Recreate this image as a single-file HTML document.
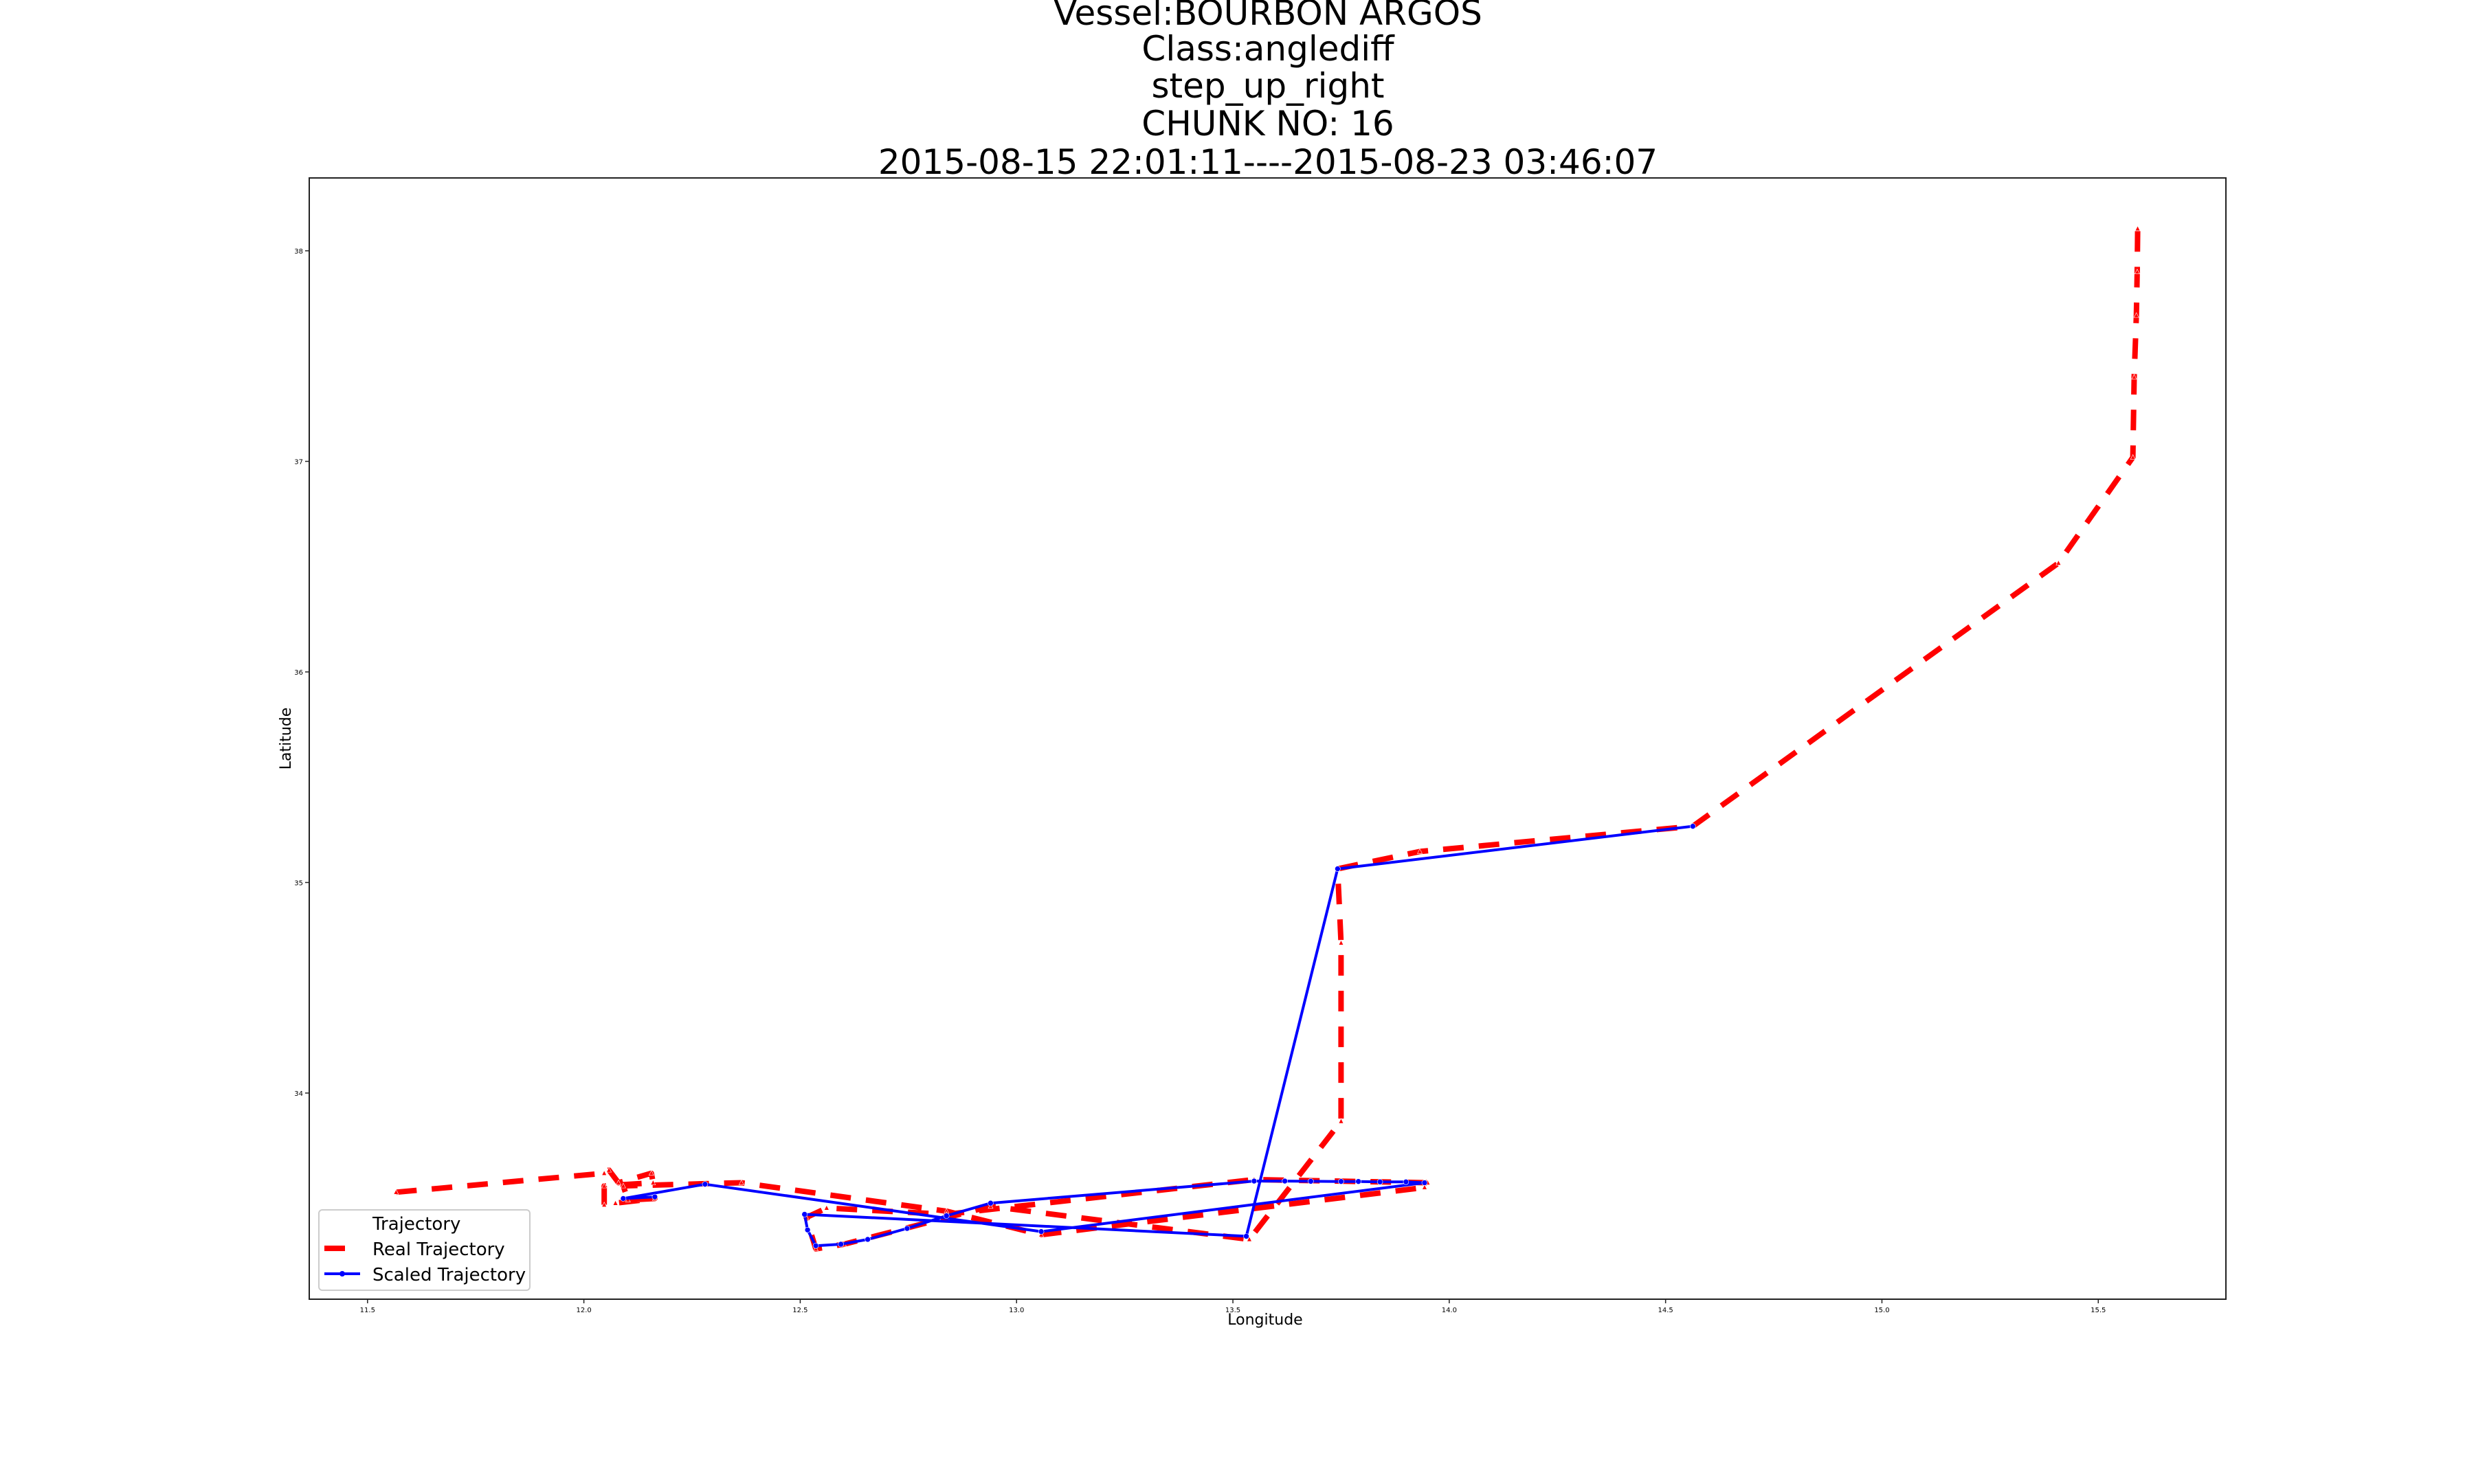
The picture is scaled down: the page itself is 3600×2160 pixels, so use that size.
<!DOCTYPE html>
<html><head><meta charset="utf-8"><style>
html,body{margin:0;padding:0;background:#fff;}
svg{display:block;font-family:"DejaVu Sans","Liberation Sans",sans-serif;}
</style></head><body>
<svg id="chart" width="3600" height="2160" viewBox="0 0 3600 2160" xmlns="http://www.w3.org/2000/svg">
<rect width="3600" height="2160" fill="#fff"/>
<g font-size="50" text-anchor="middle" fill="#000">
<text x="1845" y="36">Vessel:BOURBON ARGOS</text>
<text x="1845" y="88">Class:anglediff</text>
<text x="1845" y="142">step_up_right</text>
<text x="1845" y="197">CHUNK NO: 16</text>
<text x="1845" y="253">2015-08-15 22:01:11----2015-08-23 03:46:07</text>
</g>
<g id="ticks"></g>
<g id="plot"></g>
<rect x="450" y="259" width="2789" height="1632" fill="none" stroke="#222" stroke-width="2"/>
<text x="1841" y="1928" font-size="22" text-anchor="middle">Longitude</text>
<text x="423" y="1075" font-size="22" text-anchor="middle" transform="rotate(-90 423 1075)">Latitude</text>
<g>
<rect x="464" y="1761" width="307" height="117" rx="5" fill="#fff" fill-opacity="0.8" stroke="#ccc" stroke-width="2"/>
<text x="542" y="1790" font-size="26">Trajectory</text>
<line x1="472" y1="1817" x2="524" y2="1817" stroke="#f00" stroke-width="8" stroke-dasharray="30,22"/>
<text x="542" y="1827" font-size="26">Real Trajectory</text>
<line x1="472" y1="1854" x2="524" y2="1854" stroke="#00f" stroke-width="4"/>
<circle cx="498" cy="1854" r="4" fill="#00f"/>
<text x="542" y="1864" font-size="26">Scaled Trajectory</text>
</g>
</svg>
<script>
const xTicks = [11.5, 12.0, 12.5, 13.0, 13.5, 14.0, 14.5, 15.0, 15.5];
const xTickLabels = ["11.5","12.0","12.5","13.0","13.5","14.0","14.5","15.0","15.5"];
const yTicks = [34, 35, 36, 37, 38];
const yTickLabels = ["34","35","36","37","38"];
const realLon = [11.566,12.047,12.058,12.080,12.156,12.160,12.047,12.047,12.073,12.164,12.102,12.091,12.364,12.838,13.057,13.943,13.950,13.549,12.838,12.561,12.514,12.536,12.601,12.940,13.538,13.750,13.750,13.742,13.932,14.563,15.408,15.580,15.583,15.588,15.590,15.591];
const realLat = [33.529,33.619,33.634,33.574,33.619,33.574,33.559,33.469,33.477,33.499,33.492,33.559,33.574,33.439,33.327,33.552,33.574,33.589,33.424,33.454,33.409,33.260,33.282,33.462,33.305,33.866,34.713,35.065,35.147,35.267,36.517,37.019,37.400,37.693,37.900,38.105];
const scaledLon = [12.164,12.091,12.280,13.057,13.943,13.900,13.840,13.790,13.750,13.680,13.620,13.549,12.940,12.838,12.747,12.656,12.594,12.536,12.517,12.510,13.531,13.742,14.563];
const scaledLat = [33.507,33.499,33.567,33.342,33.574,33.578,33.578,33.580,33.580,33.581,33.582,33.582,33.477,33.417,33.357,33.305,33.282,33.275,33.350,33.424,33.320,35.065,35.267];

const X0=450, X1=3239, Y0=259, Y1=1891;
const xMin=11.3653, xMax=15.795, yMin=33.021, yMax=38.346;
function sx(v){return X0+(v-xMin)/(xMax-xMin)*(X1-X0);}
function sy(v){return Y1-(v-yMin)/(yMax-yMin)*(Y1-Y0);}
const NS="http://www.w3.org/2000/svg";
const ticks=document.getElementById('ticks');
const plot=document.getElementById('plot');
function mk(tag,attrs,parent){const e=document.createElementNS(NS,tag);for(const k in attrs)e.setAttribute(k,attrs[k]);parent.appendChild(e);return e;}
xTicks.forEach((v,i)=>{
  const t=mk('line',{x1:sx(v),x2:sx(v),y1:Y1,y2:Y1+6,stroke:'#222','stroke-width':1.5},ticks);
  
  
  const l=mk('text',{x:sx(v),y:Y1+19,'font-size':10,'text-anchor':'middle'},ticks);
  l.textContent=xTickLabels[i];
  
  
});
yTicks.forEach((v,i)=>{
  const t=mk('line',{x1:X0-6,x2:X0,y1:sy(v),y2:sy(v),stroke:'#222','stroke-width':1.5},ticks);
  
  
  const l=mk('text',{x:X0-9,y:sy(v)+4,'font-size':10,'text-anchor':'end'},ticks);
  l.textContent=yTickLabels[i];
  
  
});
function pts(lon,lat){return lon.map((v,i)=>sx(v).toFixed(1)+','+sy(lat[i]).toFixed(1)).join(' ');}
const real=mk('polyline',{points:pts(realLon,realLat),fill:'none',stroke:'#f00','stroke-width':8,'stroke-dasharray':'30,22','stroke-linejoin':'round'},plot);


realLon.forEach((v,i)=>{
  const x=sx(v),y=sy(realLat[i]);
  const m=mk('polygon',{points:`${x},${y-4} ${x-3.5},${y+3} ${x+3.5},${y+3}`,fill:'#f00',stroke:'#fff','stroke-width':0.6},plot);
  
  
});
const sc=mk('polyline',{points:pts(scaledLon,scaledLat),fill:'none',stroke:'#00f','stroke-width':4,'stroke-linejoin':'round'},plot);


scaledLon.forEach((v,i)=>{
  const c=mk('circle',{cx:sx(v),cy:sy(scaledLat[i]),r:4,fill:'#00f',stroke:'#fff','stroke-width':0.6},plot);
  
  
});
</script>
</body></html>
